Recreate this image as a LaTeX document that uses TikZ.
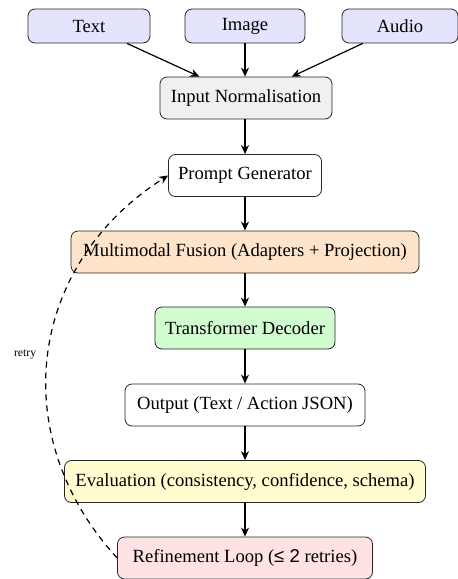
\documentclass[tikz,border=0pt]{standalone}
\usepackage{fontspec}
\setmainfont{Liberation Serif}
\newfontfamily\symfont{Liberation Sans}
\usetikzlibrary{arrows.meta}
\definecolor{inblue}{RGB}{228,228,252}
\definecolor{ngray}{RGB}{240,240,240}
\definecolor{fusionc}{RGB}{255,228,204}
\definecolor{decc}{RGB}{208,252,208}
\definecolor{evalc}{RGB}{255,252,208}
\definecolor{refc}{RGB}{255,226,228}
\tikzset{
  box/.style={draw=black!85, line width=0.8pt, rounded corners=7pt, inner xsep=9pt, inner ysep=0pt,
    minimum height=42pt, font=\fontsize{18.6}{22}\selectfont, align=center},
  inbox/.style={box, fill=inblue, minimum height=34pt},
  arr/.style={-{Stealth[length=9pt,width=8pt]}, line width=1.2pt},
  retryarr/.style={-{Stealth[length=9pt,width=8pt]}, line width=1.2pt, dash pattern=on 6pt off 5pt}
}
\begin{document}
\begin{tikzpicture}[x=1pt,y=1pt]
\useasboundingbox (0,0) rectangle (458,-579);
\node[inbox, minimum width=122pt] (text) at (89,-26) {Text};
\node[inbox, minimum width=120pt] (image) at (245,-26) {Image};
\node[inbox, minimum width=116pt] (audio) at (400,-26) {Audio};
\node[box, fill=ngray, minimum width=172pt] (input) at (246,-98) {Input Normalisation};
\node[box, fill=white, minimum width=153pt] (prompt) at (245,-175.5) {Prompt Generator};
\node[box, fill=fusionc, minimum width=348pt] (fusion) at (245,-252) {Multimodal Fusion (Adapters + Projection)};
\node[box, fill=decc, minimum width=180pt] (decoder) at (245,-328) {Transformer Decoder};
\node[box, fill=white, minimum width=240pt] (output) at (245,-405) {Output (Text / Action JSON)};
\node[box, fill=evalc, minimum width=361pt] (eval) at (245,-481.5) {Evaluation (consistency, confidence, schema)};
\node[box, fill=refc, minimum width=255pt] (refine) at (245,-558) {Refinement Loop ({\symfont ≤ 2} retries)};
\draw[arr] (text) -- (input);
\draw[arr] (image) -- (image |- input.north);
\draw[arr] (audio) -- (input);
\draw[arr] (input.south -| prompt) -- (prompt);
\draw[arr] (prompt) -- (fusion);
\draw[arr] (fusion) -- (decoder);
\draw[arr] (decoder) -- (output);
\draw[arr] (output) -- (eval);
\draw[arr] (eval) -- (refine);
\draw[retryarr] (refine.west) to[bend left=50, looseness=1.1]
  node[pos=0.5, left=8pt, font=\fontsize{11.7}{14}\selectfont] (retry) {retry} (prompt.west);
\end{tikzpicture}
\end{document}
